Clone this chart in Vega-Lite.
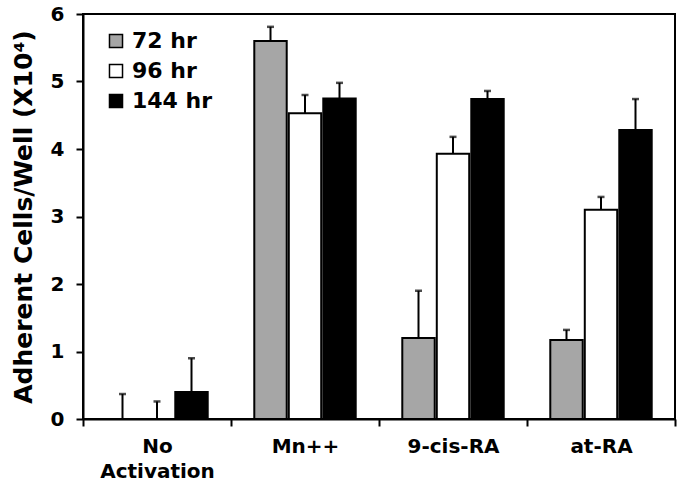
{
  "$schema": "https://vega.github.io/schema/vega-lite/v6.json",
  "width": 592,
  "height": 405,
  "autosize": {"type": "none"},
  "padding": {"left": 83, "top": 14, "right": 8, "bottom": 70},
  "config": {
    "font": "DejaVu Sans",
    "view": {"stroke": "black", "strokeWidth": 2},
    "axis": {
      "grid": false,
      "domainColor": "black",
      "domainWidth": 2,
      "tickColor": "black",
      "tickWidth": 2,
      "tickSize": 7,
      "labelColor": "black",
      "labelFont": "DejaVu Sans",
      "labelFontWeight": "bold",
      "titleColor": "black",
      "titleFont": "DejaVu Sans",
      "titleFontWeight": "bold"
    }
  },
  "data": {
    "values": [
      {"group": "No Activation", "time": "72 hr", "value": 0, "upper": 0.37},
      {"group": "No Activation", "time": "96 hr", "value": 0, "upper": 0.26},
      {"group": "No Activation", "time": "144 hr", "value": 0.4, "upper": 0.9},
      {"group": "Mn++", "time": "72 hr", "value": 5.6, "upper": 5.81},
      {"group": "Mn++", "time": "96 hr", "value": 4.53, "upper": 4.8},
      {"group": "Mn++", "time": "144 hr", "value": 4.75, "upper": 4.98},
      {"group": "9-cis-RA", "time": "72 hr", "value": 1.2, "upper": 1.9},
      {"group": "9-cis-RA", "time": "96 hr", "value": 3.93, "upper": 4.18},
      {"group": "9-cis-RA", "time": "144 hr", "value": 4.74, "upper": 4.86},
      {"group": "at-RA", "time": "72 hr", "value": 1.17, "upper": 1.32},
      {"group": "at-RA", "time": "96 hr", "value": 3.1, "upper": 3.29},
      {"group": "at-RA", "time": "144 hr", "value": 4.28, "upper": 4.74}
    ]
  },
  "encoding": {
    "x": {
      "field": "group",
      "type": "nominal",
      "sort": ["No Activation", "Mn++", "9-cis-RA", "at-RA"],
      "scale": {"paddingInner": 0, "paddingOuter": 0},
      "axis": {
        "title": null,
        "labelAngle": 0,
        "tickBand": "extent",
        "labelFontSize": 20,
        "labelPadding": 10,
        "labelLineHeight": 25,
        "labelExpr": "datum.value == 'No Activation' ? ['No', 'Activation'] : datum.value"
      }
    },
    "xOffset": {
      "field": "time",
      "type": "nominal",
      "sort": ["72 hr", "96 hr", "144 hr"],
      "scale": {"paddingInner": 0.06, "paddingOuter": 0.675}
    }
  },
  "layer": [
    {
      "mark": {"type": "bar", "stroke": "black", "strokeWidth": 2},
      "encoding": {
        "y": {
          "field": "value",
          "type": "quantitative",
          "scale": {"domain": [0, 6]},
          "axis": {
            "title": "Adherent Cells/Well (X10⁴)",
            "titleFontSize": 25,
            "titlePadding": 14,
            "values": [0, 1, 2, 3, 4, 5, 6],
            "format": "d",
            "labelFontSize": 20,
            "labelPadding": 12
          }
        },
        "fill": {
          "field": "time",
          "type": "nominal",
          "sort": ["72 hr", "96 hr", "144 hr"],
          "scale": {"domain": ["72 hr", "96 hr", "144 hr"], "range": ["#a6a6a6", "#ffffff", "#000000"]},
          "legend": {
            "title": null,
            "orient": "none",
            "legendX": 22,
            "legendY": 16,
            "symbolType": "square",
            "symbolSize": 170,
            "symbolStrokeColor": "black",
            "symbolStrokeWidth": 1.5,
            "labelFontSize": 22,
            "labelFontWeight": "bold",
            "labelColor": "black",
            "labelOffset": 5,
            "rowPadding": 8
          }
        }
      }
    },
    {
      "mark": {"type": "rule", "color": "black", "strokeWidth": 2},
      "encoding": {
        "y": {"field": "value", "type": "quantitative", "title": "Adherent Cells/Well (X10⁴)"},
        "y2": {"field": "upper"}
      }
    },
    {
      "mark": {"type": "tick", "color": "black", "size": 7, "thickness": 2.5},
      "encoding": {
        "y": {"field": "upper", "type": "quantitative", "title": "Adherent Cells/Well (X10⁴)"}
      }
    }
  ]
}
